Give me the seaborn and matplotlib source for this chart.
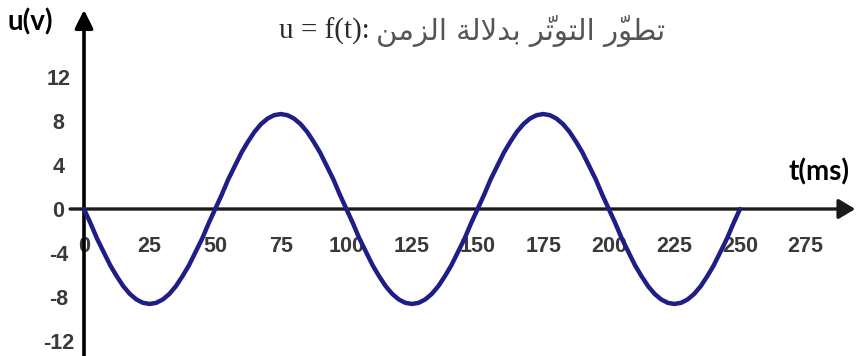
import matplotlib
matplotlib.use("Agg")
import matplotlib.pyplot as plt
import seaborn as sns
import pandas as pd

# ---- data ----
t_ms = [0, 2.5, 5, 7.5, 10, 12.5, 15, 17.5, 20, 22.5,
        25, 27.5, 30, 32.5, 35, 37.5, 40, 42.5, 45, 47.5,
        50, 52.5, 55, 57.5, 60, 62.5, 65, 67.5, 70, 72.5,
        75, 77.5, 80, 82.5, 85, 87.5, 90, 92.5, 95, 97.5,
        100, 102.5, 105, 107.5, 110, 112.5, 115, 117.5, 120, 122.5,
        125, 127.5, 130, 132.5, 135, 137.5, 140, 142.5, 145, 147.5,
        150, 152.5, 155, 157.5, 160, 162.5, 165, 167.5, 170, 172.5,
        175, 177.5, 180, 182.5, 185, 187.5, 190, 192.5, 195, 197.5,
        200, 202.5, 205, 207.5, 210, 212.5, 215, 217.5, 220, 222.5,
        225, 227.5, 230, 232.5, 235, 237.5, 240, 242.5, 245, 247.5,
        250]
u_v = [0.0, -1.3, -2.7, -3.9, -5.1, -6.1, -7.0, -7.7, -8.2, -8.5,
       -8.6, -8.5, -8.2, -7.7, -7.0, -6.1, -5.1, -3.9, -2.7, -1.3,
       0.0, 1.3, 2.7, 3.9, 5.1, 6.1, 7.0, 7.7, 8.2, 8.5,
       8.6, 8.5, 8.2, 7.7, 7.0, 6.1, 5.1, 3.9, 2.7, 1.3,
       0.0, -1.3, -2.7, -3.9, -5.1, -6.1, -7.0, -7.7, -8.2, -8.5,
       -8.6, -8.5, -8.2, -7.7, -7.0, -6.1, -5.1, -3.9, -2.7, -1.3,
       0.0, 1.3, 2.7, 3.9, 5.1, 6.1, 7.0, 7.7, 8.2, 8.5,
       8.6, 8.5, 8.2, 7.7, 7.0, 6.1, 5.1, 3.9, 2.7, 1.3,
       0.0, -1.3, -2.7, -3.9, -5.1, -6.1, -7.0, -7.7, -8.2, -8.5,
       -8.6, -8.5, -8.2, -7.7, -7.0, -6.1, -5.1, -3.9, -2.7, -1.3,
       0.0]
x_ticks = [0, 25, 50, 75, 100, 125, 150, 175, 200, 225, 250, 275]
y_ticks = [-12, -8, -4, 0, 4, 8, 12]
x_label = "t(ms)"
y_label = "u(v)"
title_latin = "u = f(t):"
title_arabic = "تطوّر التوتّر بدلالة الزمن"

# ---- minimal Arabic shaping (matplotlib has no shaping / RTL) ----
FORMS = {  # isolated, final, initial, medial
    "ا": (0xFE8D, 0xFE8E, None, None),
    "ب": (0xFE8F, 0xFE90, 0xFE91, 0xFE92),
    "ة": (0xFE93, 0xFE94, None, None),
    "ت": (0xFE95, 0xFE96, 0xFE97, 0xFE98),
    "د": (0xFEA9, 0xFEAA, None, None),
    "ر": (0xFEAD, 0xFEAE, None, None),
    "ز": (0xFEAF, 0xFEB0, None, None),
    "ط": (0xFEC1, 0xFEC2, 0xFEC3, 0xFEC4),
    "ل": (0xFEDD, 0xFEDE, 0xFEDF, 0xFEE0),
    "م": (0xFEE1, 0xFEE2, 0xFEE3, 0xFEE4),
    "ن": (0xFEE5, 0xFEE6, 0xFEE7, 0xFEE8),
    "و": (0xFEED, 0xFEEE, None, None),
}
MARKS = {"\u0651"}


def shape_word(word):
    letters = []  # [char, marks]
    for ch in word:
        if ch in MARKS and letters:
            letters[-1][1] += ch
        else:
            letters.append([ch, ""])
    merged = []
    i = 0
    while i < len(letters):
        if letters[i][0] == "ل" and i + 1 < len(letters) and letters[i + 1][0] == "ا":
            merged.append(["لا", letters[i][1] + letters[i + 1][1]])
            i += 2
        else:
            merged.append(letters[i])
            i += 1

    def dual(c):
        return c in FORMS and FORMS[c][2] is not None

    glyphs = []
    for k, (c, m) in enumerate(merged):
        prev_join = k > 0 and dual(merged[k - 1][0])
        if c == "لا":
            g = chr(0xFEFC if prev_join else 0xFEFB)
        else:
            nxt_join = dual(c) and k + 1 < len(merged)
            f = FORMS[c]
            if prev_join and nxt_join:
                g = chr(f[3])
            elif prev_join:
                g = chr(f[1])
            elif nxt_join:
                g = chr(f[2])
            else:
                g = chr(f[0])
        glyphs.append(m + g)
    return "".join(reversed(glyphs))


def visual_arabic(text):
    return " ".join(shape_word(w) for w in reversed(text.split(" ")))


# ---- figure ----
sns.set_theme(style="white")
plt.rcParams["font.family"] = ["Liberation Sans", "DejaVu Sans"]

W, H = 856, 356
fig = plt.figure(figsize=(W / 100, H / 100), dpi=100)
ax = fig.add_axes([0, 0, 1, 1])

x0_px, sx = 84.0, 65.6 / 25.0
y0_px, sy = 209.0, 11.04
ax.set_xlim(-x0_px / sx, (W - x0_px) / sx)
ax.set_ylim(-(H - y0_px) / sy, y0_px / sy)

df = pd.DataFrame({"t": t_ms, "u": u_v})
sns.lineplot(data=df, x="t", y="u", ax=ax, color="#1e1e86",
             linewidth=3.2, sort=False, zorder=5)

for side in ["top", "right"]:
    ax.spines[side].set_visible(False)
ax.spines["left"].set_position(("data", 0))
ax.spines["bottom"].set_position(("data", 0))
ax.spines["left"].set_visible(False)
ax.spines["bottom"].set_visible(False)

# axes with arrow heads
ymin, ymax = ax.get_ylim()
xmin, xmax = ax.get_xlim()
ax.annotate("", xy=(0, ymax - 0.9), xytext=(0, ymin),
            arrowprops=dict(arrowstyle="-|>,head_length=1.1,head_width=0.55",
                            color="black", lw=2.6, shrinkA=0, shrinkB=0,
                            mutation_scale=10),
            annotation_clip=False, zorder=3)
ax.annotate("", xy=(xmax - 0.3, 0), xytext=(-5.3, 0),
            arrowprops=dict(arrowstyle="-|>,head_length=1.0,head_width=0.6",
                            color="#1a1a1a", lw=2.4, shrinkA=0, shrinkB=0,
                            mutation_scale=10),
            annotation_clip=False, zorder=3)

ax.set_xticks(x_ticks)
ax.set_xticklabels([str(v) for v in x_ticks])
ax.set_yticks(y_ticks)
ax.set_yticklabels([str(v) for v in y_ticks])
ax.tick_params(axis="x", direction="out", length=5.5, width=1.6,
               color="#333333", pad=14, labelsize=15.5, labelcolor="#3a3a3a")
ax.tick_params(axis="y", direction="out", length=4, width=1.6,
               color="#333333", pad=14.5, labelsize=15.5, labelcolor="#3a3a3a")
for lbl in ax.get_xticklabels() + ax.get_yticklabels():
    lbl.set_fontweight("bold")
    lbl.set_family(["Liberation Sans"])
for lbl in ax.get_yticklabels():
    lbl.set_horizontalalignment("center")
    lbl.set_verticalalignment("center_baseline")
ax.set_xlabel("")
ax.set_ylabel("")
ax.grid(False)

# axis names
fig.text(30 / W, 1 - 22 / H, y_label, ha="center", va="center",
         fontsize=20, fontweight="bold", color="black", family=["Lato", "DejaVu Sans"])
fig.text(819 / W, 1 - 172 / H, x_label, ha="center", va="center",
         fontsize=20, fontweight="bold", color="black", family=["Lato", "DejaVu Sans"])

# title: Arabic part (right) in grey, Latin part (left) darker
ar = fig.text(665 / W, 1 - 31 / H, visual_arabic(title_arabic), ha="right",
              va="center", fontsize=21, color="#555555", family=["DejaVu Sans"])
fig.canvas.draw()
ar_left = ar.get_window_extent().x0
fig.text((ar_left - 6) / W, 1 - 31 / H, title_latin, ha="right", va="center",
         fontsize=21, color="#2b2b2b", family=["Liberation Serif", "DejaVu Sans"])

fig.savefig("out.png", dpi=100)
